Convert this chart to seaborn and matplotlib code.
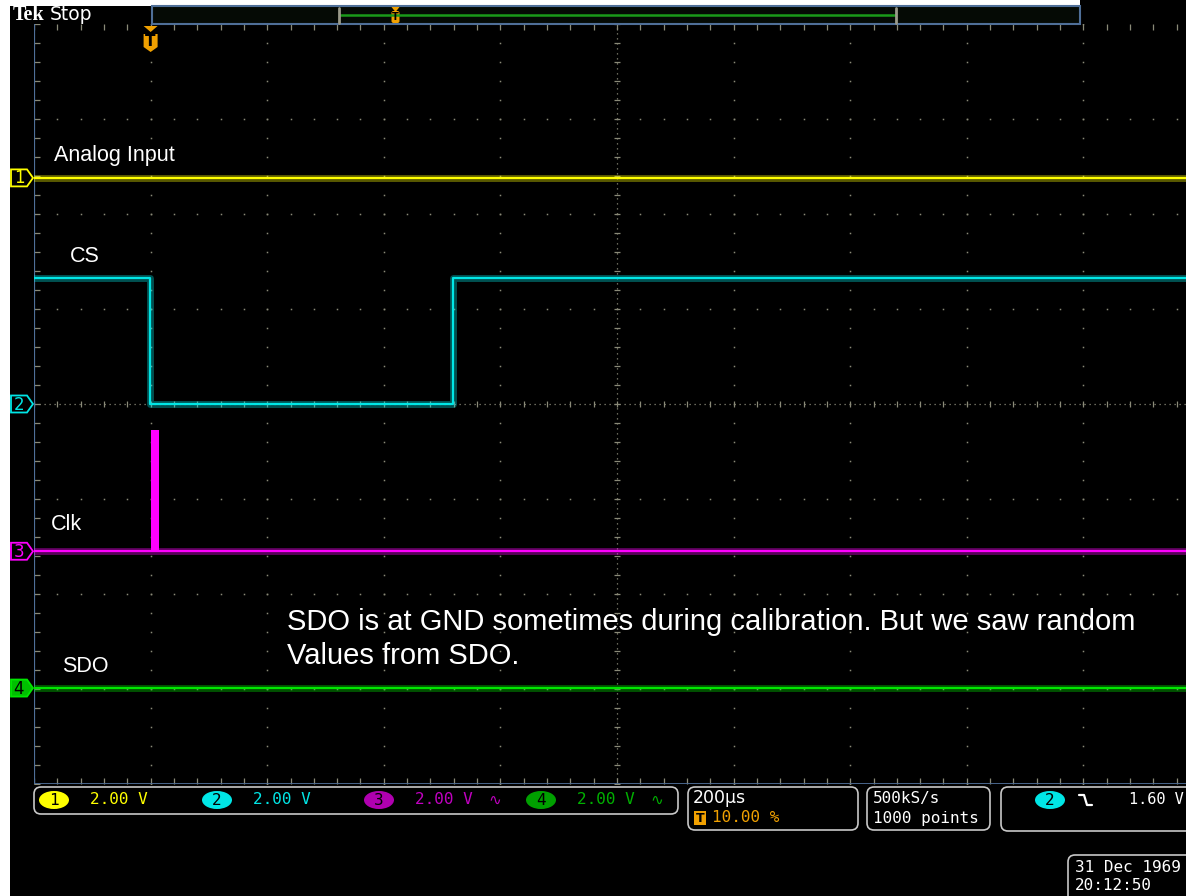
import numpy as np
import pandas as pd
import seaborn as sns
import matplotlib.pyplot as plt
from matplotlib.patches import Polygon, FancyBboxPatch, Rectangle, Ellipse
from matplotlib import patheffects as pe

# ---------------- acquisition settings ----------------
volts_per_div = 2.00
time_per_div_us = 200
n_hdiv, n_vdiv = 10, 8
trigger_pct = 10.00
trigger_level = 1.60
sample_rate = "500kS/s"
record_points = "1000 points"
timestamp_date = "31 Dec 1969"
timestamp_time = "20:12:50"

# channel names, ground offsets (divisions from screen centre) and colours
channel_names = ["Analog Input", "CS", "Clk", "SDO"]
channel_offsets_div = [2.38, 0.0, -1.55, -2.99]
channel_colors = ["#ffff00", "#00e6e6", "#ff00ff", "#00e600"]

# ---------------- captured traces (time in µs, level in V) ----------------
ain_t = [0, 2000]
ain_v = [0.0, 0.0]

cs_t = [0, 199, 719, 2000]
cs_v = [2.66, 0.0, 2.66, 2.66]

clk_t = [0, 2000]
clk_v = [0.0, 0.0]
clk_burst_start, clk_burst_end, clk_burst_high = 201, 214, 2.56

sdo_t = [0, 2000]
sdo_v = [0.0, 0.0]

note_text = ("SDO is at GND sometimes during calibration. But we saw random\n"
             "Values from SDO.")

# ---------------- figure and screen geometry ----------------
W, H, DPI = 1186, 896, 100
sns.set_theme(style="dark")
plt.rcParams["font.family"] = ["DejaVu Sans"]
fig = plt.figure(figsize=(W / DPI, H / DPI), dpi=DPI, facecolor="black")

# graticule area in pixels
gx0, gy0 = 34, 24
div_w, div_h = 116.6, 95.0
gx1, gy1 = gx0 + n_hdiv * div_w, gy0 + n_vdiv * div_h

ax = fig.add_axes([gx0 / W, 1 - gy1 / H, (gx1 - gx0) / W, (gy1 - gy0) / H])
ax.set_facecolor("black")
t_span = n_hdiv * time_per_div_us
ax.set_xlim(0, t_span)
ax.set_ylim(-n_vdiv / 2, n_vdiv / 2)
ax.set_xticks([])
ax.set_yticks([])
for s in ax.spines.values():
    s.set_visible(False)

grid_col = "#8a8a78"
# dotted division lines
minor_x = np.arange(0, t_span + 1, time_per_div_us / 5)
minor_y = np.arange(-4, 4.001, 0.2)
for k in range(1, n_hdiv):
    if k == n_hdiv // 2:
        continue
    ax.plot(np.full_like(minor_y, k * time_per_div_us), minor_y, ls="none",
            marker="s", ms=1.1, mec="none", mfc=grid_col, zorder=1)
for k in range(-3, 4):
    if k == 0:
        continue
    ax.plot(minor_x, np.full_like(minor_x, k), ls="none",
            marker="s", ms=1.1, mec="none", mfc=grid_col, zorder=1)
# centre cross: fine dotted lines with minor ticks
ax.axhline(0, color=grid_col, lw=0.9, ls=(0, (1, 3)), zorder=1)
ax.axvline(t_span / 2, color=grid_col, lw=0.9, ls=(0, (1, 3)), zorder=1)
ax.plot(minor_x, np.zeros_like(minor_x), ls="none", marker="|", ms=5,
        mew=0.9, color=grid_col, zorder=1)
ax.plot(np.full_like(minor_y, t_span / 2), minor_y, ls="none", marker="_",
        ms=5, mew=0.9, color=grid_col, zorder=1)
# edge ticks
ax.plot(minor_x, np.full_like(minor_x, 3.97), ls="none", marker="|", ms=4,
        mew=0.9, color=grid_col, zorder=1)
ax.plot(minor_x, np.full_like(minor_x, -3.97), ls="none", marker="|", ms=4,
        mew=0.9, color=grid_col, zorder=1)
ax.plot(np.full_like(minor_y, 6), minor_y, ls="none", marker="_", ms=4,
        mew=0.9, color=grid_col, zorder=1)

# frame lines
frame_col = "#4f6f98"
ax.axvline(0, color=frame_col, lw=1.6, zorder=2)
ax.axhline(-4, color=frame_col, lw=2.0, zorder=2)

# ---------------- traces ----------------
traces = [(ain_t, ain_v), (cs_t, cs_v), (clk_t, clk_v), (sdo_t, sdo_v)]
frames = []
for name, off, (tt, vv) in zip(channel_names, channel_offsets_div, traces):
    frames.append(pd.DataFrame({"t": tt,
                                "div": off + np.asarray(vv) / volts_per_div,
                                "ch": name}))
df = pd.concat(frames, ignore_index=True)
glow = [pe.Stroke(linewidth=5, alpha=0.35), pe.Normal()]
sns.lineplot(data=df, x="t", y="div", hue="ch", hue_order=channel_names,
             palette=channel_colors, estimator=None, sort=False,
             drawstyle="steps-post", lw=1.6, legend=False, ax=ax, zorder=4,
             path_effects=glow)
# clock burst drawn as a filled envelope
clk_off = channel_offsets_div[2]
ax.fill_between([clk_burst_start, clk_burst_end], clk_off,
                clk_off + clk_burst_high / volts_per_div,
                color=channel_colors[2], lw=0, zorder=4)
ax.set_xlabel("")
ax.set_ylabel("")

# ---------------- screen chrome ----------------
root = fig.add_axes([0, 0, 1, 1], zorder=5)
root.set_xlim(0, W)
root.set_ylim(H, 0)
root.axis("off")
root.patch.set_alpha(0)


def div_to_px(d):
    return gy0 + (n_vdiv / 2 - d) * div_h


def t_to_px(t):
    return gx0 + t / time_per_div_us * div_w


# white margins of the screen capture
root.add_patch(Rectangle((0, 0), 10, H, color="white", lw=0))
root.add_patch(Rectangle((0, 0), 1080, 6, color="white", lw=0))

# header
root.text(13, 15, "Tek", color="white", fontsize=14.5, fontweight="bold",
          family="Liberation Serif", va="center", ha="left")
root.text(50, 15, "Stop", color="white", fontsize=13.5, va="center", ha="left")

# record view bar
root.add_patch(Rectangle((152, 6), 928, 18, fc="#050a05", ec=frame_col, lw=1.5))
root.plot([340, 895], [15, 15], color="#1a9a1a", lw=1.8)
for bx in (339, 896):
    root.plot([bx, bx], [8, 23], color="#9a9a8a", lw=2)
trig_rec_x = 340 + (895 - 340) * (trigger_pct / 100)
root.add_patch(FancyBboxPatch((trig_rec_x - 4, 11), 8, 12,
                              boxstyle="round,pad=0,rounding_size=2",
                              fc="#f0a000", ec="none"))
root.add_patch(Polygon([(trig_rec_x - 4, 7), (trig_rec_x + 4, 7),
                        (trig_rec_x, 12)], fc="#f0a000", ec="none"))
root.text(trig_rec_x, 17.5, "T", color="black", fontsize=7, fontweight="bold",
          ha="center", va="center")

# trigger position marker
trig_x = t_to_px(trigger_pct / 100 * t_span)
root.add_patch(Polygon([(trig_x - 7, 26), (trig_x + 7, 26), (trig_x, 32)],
                       fc="#f0a000", ec="none"))
root.add_patch(Polygon([(trig_x - 7, 34), (trig_x + 7, 34), (trig_x + 7, 47),
                        (trig_x, 52), (trig_x - 7, 47)],
                       fc="#f0a000", ec="none"))
root.text(trig_x, 42, "T", color="black", fontsize=11, fontweight="bold",
          ha="center", va="center")

# channel ground markers
marker_face = ["black", "black", "black", "#00c000"]
marker_text = ["#ffff00", "#00e6e6", "#ff00ff", "black"]
for i, (off, col) in enumerate(zip(channel_offsets_div, channel_colors)):
    y = div_to_px(off)
    poly = [(11, y - 8.5), (27, y - 8.5), (33, y), (27, y + 8.5), (11, y + 8.5)]
    root.add_patch(Polygon(poly, closed=True, fc=marker_face[i], ec=col,
                           lw=1.3, zorder=6))
    root.text(19, y + 0.5, str(i + 1), color=marker_text[i], fontsize=12,
              ha="center", va="center", zorder=7)

# trace labels
label_font = dict(color="white", fontsize=15.5, family="Liberation Sans",
                  va="center", ha="left")
label_pos = [(54, 155), (70, 256), (51, 524), (62, 667)]
for name, (lx, ly) in zip(channel_names, label_pos):
    root.text(lx, ly, name, **label_font)

root.text(287, 639, note_text, color="white", fontsize=21,
          family="Liberation Sans", va="center", ha="left", linespacing=1.24)

# ---------------- status bar ----------------
box_col = "#c8c8c8"
status_font = dict(family="DejaVu Sans Mono", fontsize=11.5, va="center")


def status_box(x0, y0, x1, y1):
    root.add_patch(FancyBboxPatch((x0, y0), x1 - x0, y1 - y0,
                                  boxstyle="round,pad=0,rounding_size=7",
                                  fc="black", ec=box_col, lw=1.2))


status_box(34, 787, 678, 814)
status_box(688, 787, 858, 830)
status_box(867, 787, 990, 830)
status_box(1001, 787, 1200, 831)
status_box(1068, 855, 1200, 905)

badge_face = ["#ffff00", "#00e6e6", "#b000b0", "#00a000"]
scale_text_col = ["#ffff00", "#00e6e6", "#c000c0", "#00b000"]
badge_x = [54, 217, 379, 541]
for i in range(4):
    bx = badge_x[i]
    root.add_patch(Ellipse((bx, 800), 30, 18, fc=badge_face[i], ec="none"))
    root.text(bx, 800.5, str(i + 1), color="black", ha="center", va="center",
              family="DejaVu Sans Mono", fontsize=11.5)
    root.text(bx + 36, 800, f"{volts_per_div:.2f} V", color=scale_text_col[i],
              ha="left", **status_font)
    if i >= 2:
        root.text(bx + 109, 800, "∿", color=scale_text_col[i], ha="left",
                  family="DejaVu Sans", fontsize=11, va="center")

root.text(693, 798, f"{time_per_div_us}µs", color="white", ha="left",
          family="DejaVu Sans", fontsize=12.5, va="center")
root.add_patch(Rectangle((694, 811), 12, 14, fc="#f0a000", ec="none"))
root.text(700, 818.5, "T", color="black", fontsize=9, fontweight="bold",
          ha="center", va="center")
root.text(712, 818, f"{trigger_pct:.2f} %", color="#f0a000", ha="left",
          **status_font)

root.text(873, 798, sample_rate, color="white", ha="left", **status_font)
root.text(873, 818, record_points, color="white", ha="left", **status_font)

root.add_patch(Ellipse((1050, 800), 30, 18, fc="#00e6e6", ec="none"))
root.text(1050, 800.5, "2", color="black", ha="center", va="center",
          family="DejaVu Sans Mono", fontsize=11.5)
root.plot([1079, 1084, 1087, 1092], [795, 795, 805, 805], color="white", lw=1.6)
root.text(1129, 800, f"{trigger_level:.2f} V", color="white", ha="left",
          family="DejaVu Sans Mono", fontsize=11, va="center")

root.text(1075, 867, timestamp_date, color="white", ha="left", **status_font)
root.text(1075, 886, timestamp_time, color="white", ha="left", **status_font)

fig.savefig("out.png", dpi=DPI, facecolor="black")
